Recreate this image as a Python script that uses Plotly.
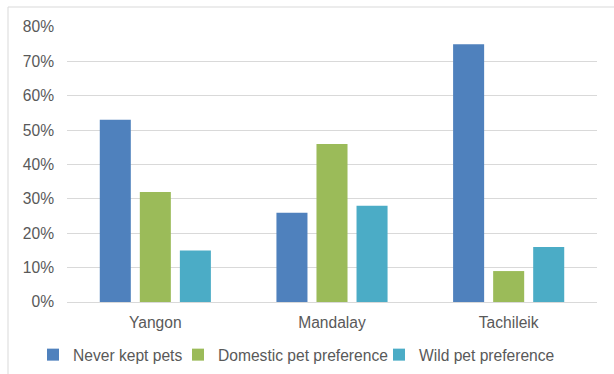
import plotly.graph_objects as go

categories = ["Yangon", "Mandalay", "Tachileik"]
series_names = ["Never kept pets", "Domestic pet preference", "Wild pet preference"]
never_kept = [0.53, 0.26, 0.75]
domestic = [0.32, 0.46, 0.09]
wild = [0.15, 0.28, 0.16]
colors = ["#4F81BD", "#9BBB59", "#4BACC6"]
legend_widths = [100, 156, None]
y_ticks = [0, 0.1, 0.2, 0.3, 0.4, 0.5, 0.6, 0.7, 0.8]

fig = go.Figure()
for name, vals, col, lw in zip(series_names, [never_kept, domestic, wild], colors, legend_widths):
    fig.add_trace(go.Bar(x=categories, y=vals, name=name, marker_color=col,
                         marker_line_width=0, legendwidth=lw))

axis_font = dict(family="Liberation Sans, Arial, sans-serif", size=15.6, color="#595959")
legend_font = dict(family="Liberation Sans, Arial, sans-serif", size=15.6, color="#595959")
fig.update_layout(
    width=614, height=374,
    margin=dict(l=67, r=17, t=27, b=72, autoexpand=False),
    paper_bgcolor="white", plot_bgcolor="white",
    barmode="group", bargap=0.32, bargroupgap=0.225,
    font=axis_font,
    showlegend=True,
    legend=dict(orientation="h", xref="container", x=33 / 614, xanchor="left",
                yref="container", y=1 - 355 / 374, yanchor="middle",
                font=legend_font, itemwidth=30, tracegroupgap=0,
                bgcolor="rgba(0,0,0,0)"),
    xaxis=dict(showgrid=False, showline=True, linecolor="#D9D9D9", linewidth=1,
               ticks="", tickfont=axis_font, ticklabelstandoff=6),
    yaxis=dict(range=[0, 0.8], tickvals=y_ticks, tickformat=".0%",
               showgrid=True, gridcolor="#D9D9D9", gridwidth=1,
               zeroline=False, showline=False, ticks="", tickfont=axis_font,
               ticklabelstandoff=12),
    shapes=[dict(type="rect", xref="paper", yref="paper",
                 x0=-0.1113, x1=1.2, y0=-0.4, y1=1.0727,
                 line=dict(color="#D9D9D9", width=1), layer="below")],
)
fig.write_html("out.html")
